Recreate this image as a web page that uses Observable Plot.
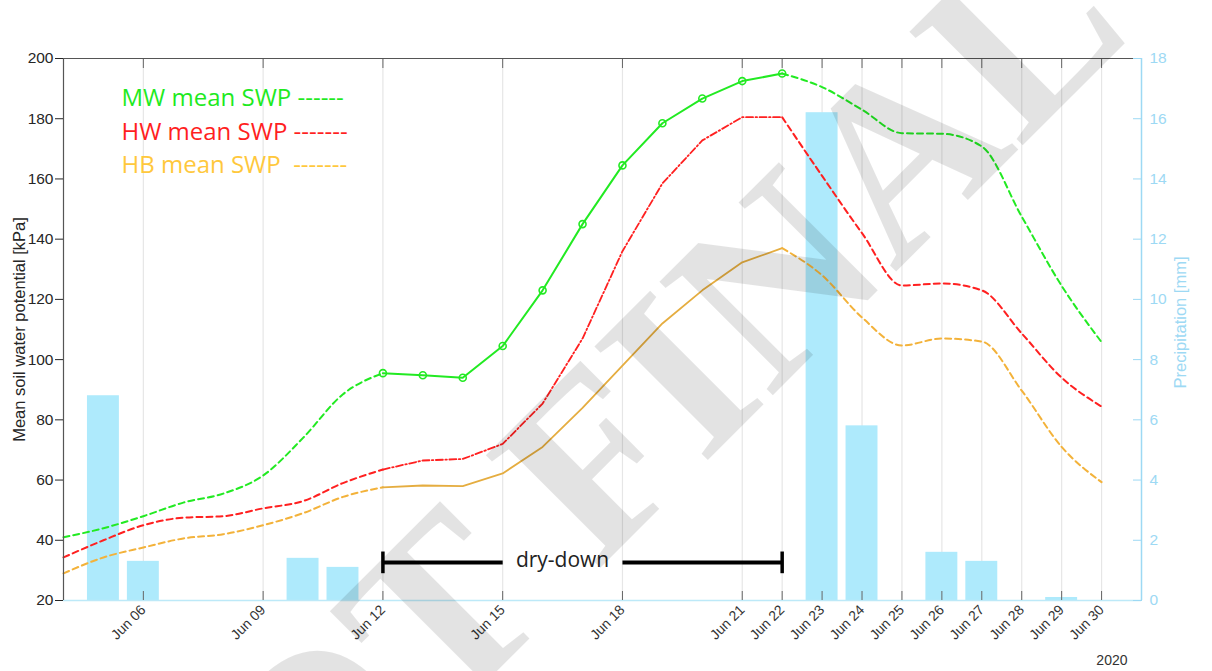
<!DOCTYPE html>
<html><head><meta charset="utf-8">
<script src="https://cdn.jsdelivr.net/npm/d3@7"></script>
<script src="https://cdn.jsdelivr.net/npm/@observablehq/plot@0.6"></script>
<style>html,body{margin:0;padding:0;background:#fff;} #chart{width:1212px;height:671px;overflow:hidden}</style>
</head><body><div id="chart"></div>
<script>
// June 2020 day numbers
const days = [4,5,6,7,8,9,10,11,12,13,14,15,16,17,18,19,20,21,22,23,24,25,26,27,28,29,30];
const mwSWP = [41,44,48,52.5,55.5,61.5,74,88.5,95.5,94.8,94,104.5,123,145,164.5,178.5,186.7,192.5,195,190.5,183,175.2,175,170.8,147.5,124.5,105.8];
const hwSWP = [34.3,40,45,47.5,48,50.6,53,59,63.5,66.5,67,72,85.4,107,136,158.5,172.8,180.5,180.5,161,142,124.6,125.3,123,108.7,94,84.4];
const hbSWP = [29,34.3,37.6,40.6,42,45,49,54.4,57.6,58.2,58,62.2,71,84,98,112,123,132.3,137,128,114,104.7,107,106,89.7,71,59.3];
const precip = [0,6.8,1.3,0,0,0,1.4,1.1,0,0,0,0,0,0,0,0,0,0,0,16.2,5.8,0,1.6,1.3,0,0.1,0];
const swpTicks = [20,40,60,80,100,120,140,160,180,200];
const precipTicks = [0,2,4,6,8,10,12,14,16,18];
const tickDays = [6,9,12,15,18,21,22,23,24,25,26,27,28,29,30];
const domainDays = [4,31];
const dryDownDays = [12,22];
const dryDownSegments = [[12,15],[18,22]];
const dryDownLevel = 32.6;
const dryDownLabelDay = 16.5;
const legendLabels = ["MW mean SWP ------","HW mean SWP -------","HB mean SWP  -------"];
const legendColors = ["#1fea1f","#ff1f1f","#ffc83c"];

const date = d => new Date(Date.UTC(2020,5,1) + (d-1)*864e5);
const pToY = p => 20 + p*10;   // precipitation (right axis) onto left scale
const fmt = d3.utcFormat("%b %d");

const rows = days.map((d,i) => ({day:d, date:date(d), mw:mwSWP[i], hw:hwSWP[i], hb:hbSWP[i], p:precip[i]}));
const pre = rows.filter(r => r.day <= 12);
const mid = rows.filter(r => r.day >= 12 && r.day <= 22);
const post = rows.filter(r => r.day >= 22);

const G = "#22ea22", R = "#ff2020", O = "#f3b23a", O2 = "#e5ad40";
const blue = "#aeeafc", blueAx = "#9dd9f4";
const sans = "Liberation Sans, Arial, sans-serif";

const legendMarks = legendLabels.map((t,i) =>
  Plot.text([t], {frameAnchor:"top-left", dx:58, dy:40+i*33.5, textAnchor:"start", lineAnchor:"middle", fontSize:24, fontFamily:"Open Sans", fill:legendColors[i]}));

const chart = Plot.plot({
  width:1212, height:671,
  marginLeft:63, marginRight:71, marginTop:58, marginBottom:71,
  style:{fontFamily:sans, background:"#fff", overflow:"hidden"},
  x:{type:"utc", domain:domainDays.map(date), axis:null},
  y:{domain:[20,200], axis:null},
  marks:[
    Plot.ruleX(tickDays.map(date), {stroke:"#e6e6e6", strokeWidth:1.2}),
    Plot.rectY(rows.filter(r=>r.p>0), {x1:r=>date(r.day-0.4), x2:r=>date(r.day+0.4), y1:20, y2:r=>pToY(r.p), fill:blue}),
    Plot.ruleY([20], {stroke:"#bde9f8", strokeWidth:1.5}),
    // MW
    Plot.line(pre, {x:"date", y:"mw", stroke:G, strokeWidth:2, strokeDasharray:"6,4", curve:"monotone-x"}),
    Plot.line(mid, {x:"date", y:"mw", stroke:G, strokeWidth:2}),
    Plot.line(post, {x:"date", y:"mw", stroke:G, strokeWidth:2, strokeDasharray:"6,4", curve:"monotone-x"}),
    Plot.dot(mid, {x:"date", y:"mw", r:3.5, stroke:G, strokeWidth:1.6, fill:"none"}),
    // HW
    Plot.line(pre, {x:"date", y:"hw", stroke:R, strokeWidth:2, strokeDasharray:"6,4", curve:"monotone-x"}),
    Plot.line(mid, {x:"date", y:"hw", stroke:R, strokeWidth:1.8, strokeDasharray:"7,2.5,1.5,2.5"}),
    Plot.line(post, {x:"date", y:"hw", stroke:R, strokeWidth:2, strokeDasharray:"6,4", curve:"monotone-x"}),
    // HB
    Plot.line(pre, {x:"date", y:"hb", stroke:O, strokeWidth:2, strokeDasharray:"6,4", curve:"monotone-x"}),
    Plot.line(mid, {x:"date", y:"hb", stroke:O2, strokeWidth:1.8}),
    Plot.line(post, {x:"date", y:"hb", stroke:O, strokeWidth:2, strokeDasharray:"6,4", curve:"monotone-x"}),
    // frame
    Plot.ruleY([200], {stroke:"#555", strokeWidth:1.2}),
    Plot.ruleX([date(domainDays[0])], {stroke:"#555", strokeWidth:1.2}),
    Plot.ruleX([date(domainDays[1])], {stroke:blueAx, strokeWidth:1.5}),
    // axes
    Plot.axisY(swpTicks, {anchor:"left", tickSize:8, tickPadding:2, fontSize:15.5, color:"#262626", label:null}),
    Plot.axisY(precipTicks.map(pToY), {anchor:"right", tickSize:-9, tickPadding:17, fontSize:15.5, color:blueAx, tickFormat:d=>String((d-20)/10), label:null}),
    Plot.axisX(tickDays.map(date), {anchor:"bottom", tickSize:-9, tickPadding:16, tickRotate:-45, fontSize:14, color:"#333", tickFormat:fmt, label:null, stroke:"#666"}),
    Plot.axisX(tickDays.map(date), {anchor:"top", tickSize:-9, tickFormat:()=>"", label:null, stroke:"#666"}),
    Plot.text(["Mean soil water potential [kPa]"], {frameAnchor:"left", textAnchor:"middle", dx:-44, rotate:-90, fontSize:16.5, fill:"#262626"}),
    Plot.text(["Precipitation [mm]"], {frameAnchor:"right", textAnchor:"middle", dx:39, dy:-7, rotate:-90, fontSize:16.5, fill:blueAx}),
    Plot.text(["2020"], {frameAnchor:"bottom-right", dx:-14, dy:64, textAnchor:"end", fontSize:14, fill:"#333"}),
    // legend
    ...legendMarks,
    // dry-down annotation
    Plot.link(dryDownSegments, {x1:s=>date(s[0]), x2:s=>date(s[1]), y1:dryDownLevel, y2:dryDownLevel, stroke:"#000", strokeWidth:4}),
    Plot.ruleX(dryDownDays, {x:d=>date(d), y1:dryDownLevel-3.7, y2:dryDownLevel+3.5, stroke:"#000", strokeWidth:3.5}),
    Plot.text(["dry-down"], {x:date(dryDownLabelDay), y:dryDownLevel, fontSize:21, fontFamily:"Open Sans", fill:"#222", dy:-2}),
    // watermark
    Plot.text(["NOT FINAL"], {frameAnchor:"middle", dy:125, rotate:-45, fontSize:245, fontFamily:"Liberation Serif", fontWeight:"bold", fill:"#000", fillOpacity:0.11})
  ]
});
document.getElementById("chart").appendChild(chart);
</script>
</body></html>
